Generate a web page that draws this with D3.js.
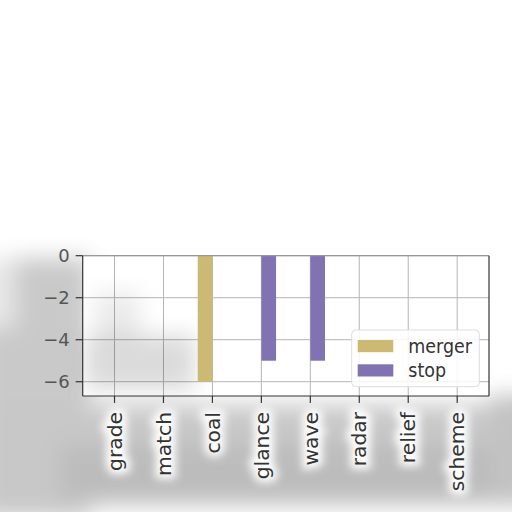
<!DOCTYPE html>
<html><head><meta charset="utf-8">
<script src="https://cdn.jsdelivr.net/npm/d3@7"></script>
<style>html,body{margin:0;padding:0;background:#fff;}svg{display:block;}</style>
</head><body>
<svg id="c" width="512" height="512"></svg>
<script>
const categories = ["grade","match","coal","glance","wave","radar","relief","scheme"];
const seriesNames = ["merger","stop"];
const mergerValues = [0,0,-6,0,0,0,0,0];
const stopValues = [0,0,0,-5,-5,0,0,0];
const yTickValues = [0,-2,-4,-6];
const colors = {merger:"#ccb974", stop:"#8172b2"};

const svg = d3.select("#c");
const L = 82.7, R = 489, T = 255.7, B = 396;
const x = d3.scaleLinear().domain([-0.65, categories.length - 1 + 0.65]).range([L, R]);
const y = d3.scaleLinear().domain([0, -6.68]).range([T, B]);
const barW = 0.3;
const FONT = "DejaVu Sans, sans-serif";

// background shading (blur artifact)
const defs = svg.append("defs");
defs.append("filter").attr("id","blur").attr("x","-30%").attr("y","-30%").attr("width","160%").attr("height","160%")
  .append("feGaussianBlur").attr("stdDeviation", 11);
defs.append("filter").attr("id","blur2").attr("x","-20%").attr("y","-20%").attr("width","140%").attr("height","140%")
  .append("feGaussianBlur").attr("stdDeviation", 4);
const shade = svg.append("g").attr("filter","url(#blur)");
shade.append("rect").attr("x",-20).attr("y",258).attr("width",110).attr("height",260).attr("fill","#c9c9c9");
shade.append("rect").attr("x",-20).attr("y",258).attr("width",35).attr("height",70).attr("fill","#e8e8e8");
shade.append("rect").attr("x",-20).attr("y",405).attr("width",560).attr("height",100).attr("fill","#c8c8c8");
shade.append("rect").attr("x",60).attr("y",445).attr("width",460).attr("height",55).attr("fill","#bcbcbc");
shade.append("rect").attr("x",490).attr("y",395).attr("width",40).attr("height",110).attr("fill","#c2c2c2");

// plot background
svg.append("rect").attr("x",L).attr("y",T).attr("width",R-L).attr("height",B-T).attr("fill","#fff");

// grid
const g = svg.append("g");
categories.forEach((c,i)=>{
  g.append("line").attr("x1",x(i)).attr("x2",x(i)).attr("y1",T).attr("y2",B)
    .attr("stroke","#b4b4b4").attr("stroke-width",1);
});
yTickValues.forEach(v=>{
  g.append("line").attr("x1",L).attr("x2",R).attr("y1",y(v)).attr("y2",y(v))
    .attr("stroke","#b4b4b4").attr("stroke-width",1);
});

// in-plot shading patch
const ip = svg.append("g").attr("filter","url(#blur)");
ip.append("rect").attr("x",85).attr("y",335).attr("width",110).attr("height",55).attr("fill","#000").attr("opacity",0.14);
ip.append("rect").attr("x",95).attr("y",292).attr("width",45).attr("height",48).attr("fill","#000").attr("opacity",0.08);

// bars
const data = [
  {name:"merger", values: mergerValues, off: -barW},
  {name:"stop", values: stopValues, off: 0}
];
data.forEach(s=>{
  svg.append("g").selectAll("rect").data(s.values.map((v,i)=>({v,i}))).join("rect")
    .attr("x", d=>x(d.i + s.off))
    .attr("width", d=>x(d.i + s.off + barW) - x(d.i + s.off))
    .attr("y", d=>Math.min(y(0), y(d.v)))
    .attr("height", d=>Math.abs(y(d.v)-y(0)))
    .attr("fill", colors[s.name]);
});

// spines
svg.append("line").attr("x1",L).attr("x2",R).attr("y1",T).attr("y2",T).attr("stroke","#999").attr("stroke-width",1.2);
svg.append("line").attr("x1",R).attr("x2",R).attr("y1",T).attr("y2",B).attr("stroke","#333").attr("stroke-width",1.2);
svg.append("line").attr("x1",L).attr("x2",L).attr("y1",T).attr("y2",B).attr("stroke","#333").attr("stroke-width",1.2);
svg.append("line").attr("x1",L).attr("x2",R).attr("y1",B).attr("y2",B).attr("stroke","#333").attr("stroke-width",1.2);

// x ticks and labels
const xt = svg.append("g");
categories.forEach((c,i)=>{
  xt.append("line").attr("x1",x(i)).attr("x2",x(i)).attr("y1",B).attr("y2",B+7).attr("stroke","#333").attr("stroke-width",1.2);
});
const halo = svg.append("g").attr("filter","url(#blur2)");
const lab = svg.append("g");
[halo, lab].forEach((grp,k)=>{
  categories.forEach((c,i)=>{
    const t = grp.append("text").text(c)
      .attr("transform", `translate(${x(i)+7.2},${B+16}) scale(1,1.04) rotate(-90)`)
      .attr("text-anchor","end")
      .attr("font-family",FONT).attr("font-size",19.5);
    if(k===0) t.attr("fill","#fff").attr("stroke","#fff").attr("stroke-width",9);
    else t.attr("fill","#333");
  });
});

// y ticks and labels
yTickValues.forEach(v=>{
  svg.append("line").attr("x1",L-7).attr("x2",L).attr("y1",y(v)).attr("y2",y(v)).attr("stroke","#333").attr("stroke-width",1.2);
  svg.append("text").text(v===0?"0":"\u2212"+Math.abs(v))
    .attr("transform",`translate(${L-13},${y(v)+6.5}) scale(1,1.0)`)
    .attr("text-anchor","end").attr("font-family",FONT).attr("font-size",18).attr("fill","#555");
});

// legend
const lg = svg.append("g");
lg.append("rect").attr("x",351.7).attr("y",330).attr("width",127.6).attr("height",56.7).attr("rx",4)
  .attr("fill","#fff").attr("fill-opacity",0.85).attr("stroke","#ddd").attr("stroke-width",1);
seriesNames.forEach((n,k)=>{
  const yy = 340 + k*24.3;
  lg.append("rect").attr("x",357.7).attr("y",yy).attr("width",35.6).attr("height",12.2).attr("fill",colors[n]);
  lg.append("text").text(n).attr("transform",`translate(408.3,${yy+12.5}) scale(1,1.08)`)
    .attr("font-family",FONT).attr("font-size",17.5).attr("fill","#333");
});
</script>
</body></html>
